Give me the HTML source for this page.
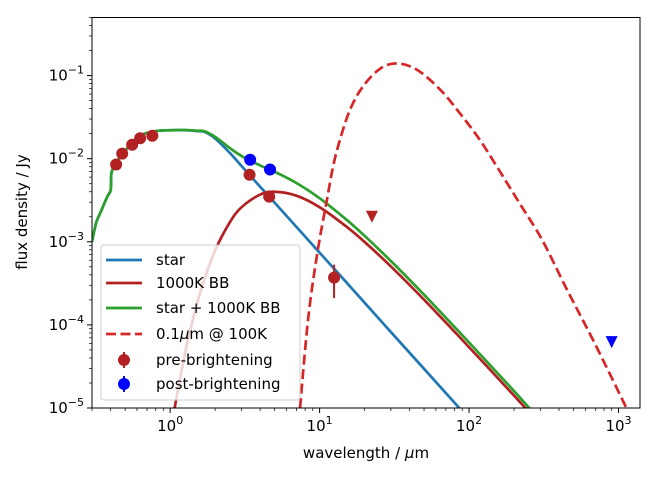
<!DOCTYPE html>
<html><head><meta charset="utf-8"><style>
html,body{margin:0;padding:0;background:#fff;}
svg text{font-family:"DejaVu Sans","Liberation Sans",sans-serif;fill:#000;}
</style></head><body>
<svg id="chart" width="664" height="483" viewBox="0 0 664 483" xmlns="http://www.w3.org/2000/svg">
<defs><clipPath id="clip"><rect x="92" y="17.5" width="548" height="390.5"/></clipPath></defs>
<rect x="0" y="0" width="664" height="483" fill="#fff"/>
<g id="marks" clip-path="url(#clip)"></g>
<g id="axes"></g>
<g id="legend"></g>
</svg>
<script>
const starWl=[0.3,0.32,0.34,0.38,0.40,0.405,0.43,0.48,0.55,0.63,0.8,1.0,1.3,1.5,1.7,2.0,2.5,3,4,5,7,10,15,20,30,50,100,200];
const starFlux=[1.0e-3,1.7e-3,2.2e-3,3.5e-3,4.2e-3,6.8e-3,8.5e-3,1.15e-2,1.5e-2,1.9e-2,2.15e-2,2.2e-2,2.2e-2,2.15e-2,2.1e-2,1.75e-2,1.18e-2,8.2e-3,4.6e-3,2.96e-3,1.51e-3,7.4e-4,3.3e-4,1.85e-4,8.2e-5,2.96e-5,7.4e-6,1.85e-6];
const bbWl=[1.0,1.1,1.3,1.5,1.7,2.0,2.5,3,4,5,7,10,15,20,30,50,100,200,250,300];
const bbFlux=[4.7e-6,1.3e-5,6e-5,1.7e-4,3.6e-4,7.9e-4,1.7e-3,2.6e-3,3.7e-3,4.0e-3,3.59e-3,2.61e-3,1.54e-3,9.96e-4,5.05e-4,2.01e-4,5.4e-5,1.41e-5,9.05e-6,6.3e-6];
const sumWl=[0.3,0.32,0.34,0.38,0.40,0.405,0.43,0.48,0.55,0.63,0.8,1.0,1.3,1.5,1.7,2.0,2.5,3,4,5,7,10,15,20,30,50,100,200,250,300];
const sumFlux=[1.0e-3,1.7e-3,2.2e-3,3.5e-3,4.2e-3,6.8e-3,8.5e-3,1.15e-2,1.5e-2,1.9e-2,2.15e-2,2.2e-2,2.21e-2,2.17e-2,2.14e-2,1.83e-2,1.35e-2,1.08e-2,8.3e-3,6.96e-3,5.1e-3,3.35e-3,1.87e-3,1.18e-3,5.87e-4,2.31e-4,6.14e-5,1.6e-5,1.02e-5,7.1e-6];
const dustWl=[7.4,8.37,9.64,11.2,12.3,13.7,16.0,19.5,25.4,32.9,44.7,64,87,118,161,218,308,450,675,1104,1250];
const dustFlux=[1e-5,1.15e-4,7.2e-4,3.2e-3,8.0e-3,1.7e-2,3.9e-2,7.4e-2,0.121,0.14,0.118,0.068,0.035,0.0169,7e-3,2.9e-3,1.06e-3,2.7e-4,6.6e-5,1.09e-5,6.5e-6];
const preWl=[0.435,0.478,0.557,0.63,0.76,3.4,4.6,12.5];
const preFlux=[8.5e-3,1.15e-2,1.47e-2,1.76e-2,1.89e-2,6.4e-3,3.5e-3,3.7e-4];
const preErrLo=[0,0,0,0,0,0,0,1.6e-4];
const preErrHi=[0,0,0,0,0,0,0,1.6e-4];
const postWl=[3.43,4.66];
const postFlux=[9.7e-3,7.4e-3];
const preLimWl=[22.4];
const preLimFlux=[2.0e-3];
const postLimWl=[900];
const postLimFlux=[6.2e-5];
const xTickVals=[1,10,100,1000];
const xTickExp=["0","1","2","3"];
const yTickVals=[1e-5,1e-4,1e-3,1e-2,1e-1];
const yTickExp=["−5","−4","−3","−2","−1"];

const NS="http://www.w3.org/2000/svg";
const L=92,R=640,T=17.5,B=408;
const xmin=Math.log10(0.3),xmax=Math.log10(1393),ymin=-5,ymax=Math.log10(0.5);
const X=v=>L+(Math.log10(v)-xmin)/(xmax-xmin)*(R-L);
const Y=v=>B-(Math.log10(v)-ymin)/(ymax-ymin)*(B-T);
function mk(tag,attrs,parent){const e=document.createElementNS(NS,tag);for(const k in attrs)e.setAttribute(k,attrs[k]);parent.appendChild(e);return e;}
const marks=document.getElementById('marks'),axes=document.getElementById('axes'),leg=document.getElementById('legend');
function smoothPath(pts){
  let d='M'+pts[0][0].toFixed(2)+','+pts[0][1].toFixed(2);
  for(let i=0;i<pts.length-1;i++){
    const p0=pts[Math.max(0,i-1)],p1=pts[i],p2=pts[i+1],p3=pts[Math.min(pts.length-1,i+2)];
    const c1x=p1[0]+(p2[0]-p0[0])/6,c1y=p1[1]+(p2[1]-p0[1])/6;
    const c2x=p2[0]-(p3[0]-p1[0])/6,c2y=p2[1]-(p3[1]-p1[1])/6;
    d+='C'+c1x.toFixed(2)+','+c1y.toFixed(2)+' '+c2x.toFixed(2)+','+c2y.toFixed(2)+' '+p2[0].toFixed(2)+','+p2[1].toFixed(2);
  }
  return d;
}
function line(wl,fl,color,dash,name){
  const pts=wl.map((w,i)=>[X(w),Y(fl[i])]);
  const p=mk('path',{d:smoothPath(pts),fill:'none',stroke:color,'stroke-width':2.7,'stroke-linejoin':'round'},marks);
  if(dash)p.setAttribute('stroke-dasharray',dash);
  
  
}
line(starWl,starFlux,'#1f77b4',null,'star-line');
line(bbWl,bbFlux,'#b22222',null,'bb-1000k-line');
line(sumWl,sumFlux,'#2ca02c',null,'star-plus-bb-line');
line(dustWl,dustFlux,'#d62728','10,4.5','dust-100k-line');
preWl.forEach((w,i)=>{
  if(preErrLo[i]>0){
    const e=mk('line',{x1:X(w),x2:X(w),y1:Y(preFlux[i]-preErrLo[i]),y2:Y(preFlux[i]+preErrHi[i]),stroke:'#b22222','stroke-width':2},marks);
    
    
  }
  const c=mk('circle',{cx:X(w),cy:Y(preFlux[i]),r:6,fill:'#b22222'},marks);
  
  
});
postWl.forEach((w,i)=>{
  const c=mk('circle',{cx:X(w),cy:Y(postFlux[i]),r:6,fill:'#0000ff'},marks);
  
  
});
function tri(wl,fl,color,name){wl.forEach((w,i)=>{const x=X(w),y=Y(fl[i]);
  const t=mk('polygon',{points:`${x-6},${y-6} ${x+6},${y-6} ${x},${y+6}`,fill:color},marks);
  
  });}
tri(preLimWl,preLimFlux,'#b22222','pre-upper-limit');
tri(postLimWl,postLimFlux,'#0000ff','post-upper-limit');

const fr=mk('rect',{x:L,y:T,width:R-L,height:B-T,fill:'none',stroke:'#000','stroke-width':1},axes);


for(let e=-1;e<=3;e++)for(let m=1;m<10;m++){const v=m*Math.pow(10,e);if(v<0.3||v>1393)continue;const x=X(v);
  mk('line',{x1:x,x2:x,y1:B,y2:B+(m==1?5:3),stroke:'#000','stroke-width':m==1?1:0.7},axes);}
xTickVals.forEach((v,i)=>{const t=mk('text',{x:X(v),y:B+23,'text-anchor':'middle','font-size':15},axes);
  t.innerHTML='10<tspan dy="-7" font-size="11">'+xTickExp[i]+'</tspan>';
  
  });
for(let e=-5;e<=-1;e++)for(let m=1;m<10;m++){const v=m*Math.pow(10,e);if(v>0.5)continue;const y=Y(v);
  mk('line',{x1:L,x2:L-(m==1?5:3),y1:y,y2:y,stroke:'#000','stroke-width':m==1?1:0.7},axes);}
yTickVals.forEach((v,i)=>{const t=mk('text',{x:L-8,y:Y(v)+5,'text-anchor':'end','font-size':15},axes);
  t.innerHTML='10<tspan dy="-7" font-size="11">'+yTickExp[i]+'</tspan>';
  
  });
const xl=mk('text',{x:366,y:458,'text-anchor':'middle','font-size':15},axes);
xl.innerHTML='wavelength / <tspan font-style="italic">μ</tspan>m';


const yl=mk('text',{x:0,y:0,'text-anchor':'middle','font-size':15,transform:'translate(27,212) rotate(-90)'},axes);
yl.textContent='flux density / Jy';



const lb=mk('rect',{x:101,y:245,width:199,height:155,rx:3,fill:'rgba(255,255,255,0.8)',stroke:'#ccc','stroke-width':1},leg);


const entries=[['star','#1f77b4','line',null,260],['1000K BB','#b22222','line',null,283],['star + 1000K BB','#2ca02c','line',null,308],['0.1μm @ 100K','#d62728','line','10,4.5',334],['pre-brightening','#b22222','pt',null,360],['post-brightening','#0000ff','pt',null,384]];
entries.forEach(en=>{const y=en[4];
  if(en[2]=='line'){const l=mk('line',{x1:106,x2:142,y1:y,y2:y,stroke:en[1],'stroke-width':2.7},leg);if(en[3])l.setAttribute('stroke-dasharray',en[3]);}
  else{mk('line',{x1:124,x2:124,y1:y-8,y2:y+8,stroke:en[1],'stroke-width':2},leg);mk('circle',{cx:124,cy:y,r:6,fill:en[1]},leg);}
  const t=mk('text',{x:156,y:y+5,'font-size':15},leg);
  if(en[0].indexOf('μm')>=0)t.innerHTML='0.1<tspan font-style="italic">μ</tspan>m @ 100K';else t.textContent=en[0];
  
  
});
</script>
</body></html>
